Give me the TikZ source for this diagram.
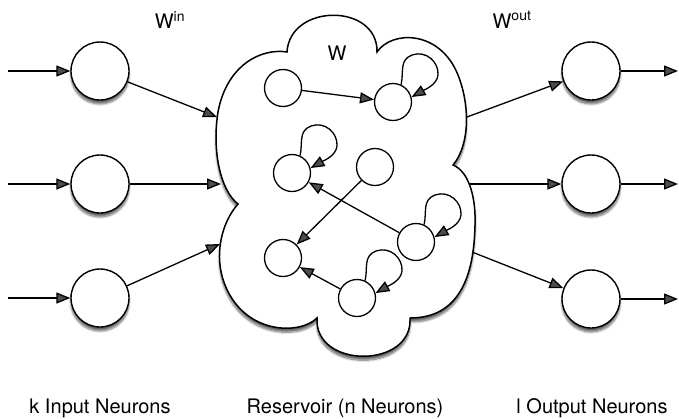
\documentclass[tikz,border=0pt]{standalone}
\usepackage{fontspec}
\setmainfont{TeX Gyre Heros}
\usetikzlibrary{arrows.meta,calc,shadows.blur}
\newcommand\myselfloop[1]{%
  \draw[arr] (#1.65) .. controls ($(#1)+(11,-30)$) and ($(#1)+(6,-42)$) ..
    ($(#1)+(19,-47)$) .. controls ($(#1)+(33,-52)$) and ($(#1)+(46,-40)$) ..
    ($(#1)+(45,-27)$) .. controls ($(#1)+(44,-17)$) and ($(#1)+(31,-12)$) .. (#1.15);}
\begin{document}
\begin{tikzpicture}[x=1pt,y=-1pt,
  shad/.style={blur shadow={shadow xshift=0pt,shadow yshift=-4pt,shadow blur steps=8,shadow opacity=60}},
  neuron/.style={circle,draw,line width=1.4pt,fill=white,minimum size=58pt,inner sep=0pt,shad},
  rneuron/.style={circle,draw,line width=1.3pt,fill=white,minimum size=37pt,inner sep=0pt},
  arr/.style={line width=1.3pt,-{Triangle[length=14pt,width=11pt]}},
  lbl/.style={font=\fontsize{20}{24}\selectfont,inner sep=0pt}]
\useasboundingbox (0,0) rectangle (679,418);
% reservoir cloud
\draw[line width=1.5pt,fill=white,shad]
  (287,52) .. controls (290,3) and (378,3) .. (377,52)
  .. controls (392,30) and (440,30) .. (458,75)
  .. controls (470,105) and (470,145) .. (453,165)
  .. controls (470,172) and (476,200) .. (475,225)
  .. controls (474,275) and (460,318) .. (410,318)
  .. controls (413,369) and (314,369) .. (317,318)
  .. controls (300,335) and (245,335) .. (225,285)
  .. controls (213,255) and (222,222) .. (238,204)
  .. controls (220,190) and (212,150) .. (218,112)
  .. controls (227,64) and (262,48) .. (287,52) -- cycle;
% input neurons
\node[neuron] (in1) at (100,71) {};
\node[neuron] (in2) at (100,184) {};
\node[neuron] (in3) at (100,298) {};
% output neurons
\node[neuron] (out1) at (591,71) {};
\node[neuron] (out2) at (591,184) {};
\node[neuron] (out3) at (591,299) {};
% reservoir neurons
\node[rneuron] (A) at (283,88) {};
\node[rneuron] (B) at (393,102) {};
\node[rneuron] (C) at (292,173) {};
\node[rneuron] (D) at (375,167) {};
\node[rneuron] (E) at (416,242) {};
\node[rneuron] (F) at (283,258) {};
\node[rneuron] (G) at (357,298) {};
% coordinates
\coordinate (i1) at (8,71);
\coordinate (i2) at (8,184);
\coordinate (i3) at (8,298);
\coordinate (o1) at (678,71);
\coordinate (o2) at (678,184);
\coordinate (o3) at (678,299);
\coordinate (cl1) at (217,117);
\coordinate (cl2) at (221,184);
\coordinate (cl3) at (220,244);
\coordinate (cr1) at (467,117);
\coordinate (cr2) at (470,184);
\coordinate (cr3) at (472,252);
% connectors
\foreach \k in {1,2,3}{
  \draw[arr] (i\k) -- (in\k);
  \draw[arr] (in\k) -- (cl\k);
  \draw[arr] (cr\k) -- (out\k);
  \draw[arr] (out\k) -- (o\k);
}
\draw[arr] (A) -- (B);
\draw[arr] (D) -- (F);
\draw[arr] (E) -- (C);
\draw[arr] (G) -- (F);
\myselfloop{B}
\myselfloop{C}
\myselfloop{E}
\myselfloop{G}
% labels
\node[lbl] (win) at (170,20) {W\textsuperscript{in}};
\node[lbl] (wout) at (512,20) {W\textsuperscript{out}};
\node[lbl] (w) at (337,53) {W};
\node[lbl,anchor=base] (lin) at (100,413) {k Input Neurons};
\node[lbl,anchor=base] (lres) at (345,413) {Reservoir (n Neurons)};
\node[lbl,anchor=base] (lout) at (592,413) {l Output Neurons};
\end{tikzpicture}
\end{document}
